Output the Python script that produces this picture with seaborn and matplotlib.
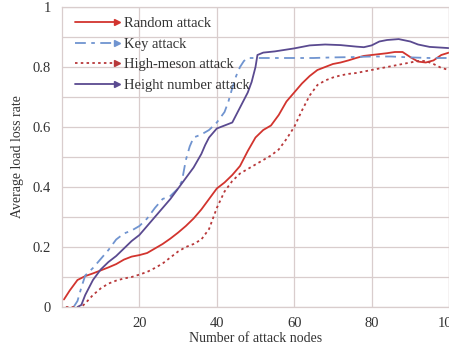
import matplotlib
matplotlib.use("Agg")
import matplotlib.pyplot as plt
from matplotlib.lines import Line2D
from matplotlib.legend_handler import HandlerLine2D
from matplotlib.ticker import MultipleLocator
import numpy as np
import pandas as pd
import seaborn as sns

# ---- data -----------------------------------------------------------------
x_random = [0.5, 2, 4, 6, 8, 10, 12, 14, 16, 18, 20, 22, 24, 26, 28, 30, 32, 34,
            36, 38, 40, 42, 44, 46, 48, 50, 52, 54, 56, 58, 60, 62, 64, 66, 68,
            70, 72, 74, 76, 78, 80, 82, 84, 86, 88, 90, 92, 94, 96, 98, 100]
y_random = [0.025, 0.055, 0.09, 0.103, 0.112, 0.122, 0.132, 0.143, 0.158, 0.168,
            0.173, 0.18, 0.195, 0.21, 0.228, 0.248, 0.27, 0.295, 0.325, 0.36,
            0.395, 0.415, 0.44, 0.47, 0.52, 0.565, 0.59, 0.605, 0.64, 0.685,
            0.715, 0.745, 0.77, 0.79, 0.80, 0.81, 0.815, 0.822, 0.83, 0.837,
            0.84, 0.843, 0.846, 0.85, 0.85, 0.833, 0.818, 0.815, 0.822, 0.84, 0.848]

x_key = [3, 4, 5, 6, 8, 10, 12, 14, 16, 18, 20, 22, 24, 26, 28, 30, 31, 32, 33,
         34, 36, 38, 40, 42, 43, 44, 45, 46, 47, 48, 50, 55, 60, 65, 70, 75, 80,
         85, 90, 95, 100]
y_key = [0.0, 0.02, 0.065, 0.105, 0.13, 0.16, 0.19, 0.225, 0.245, 0.255, 0.27,
         0.295, 0.33, 0.36, 0.37, 0.395, 0.42, 0.49, 0.535, 0.565, 0.575, 0.59,
         0.615, 0.65, 0.685, 0.73, 0.77, 0.80, 0.82, 0.83, 0.83, 0.83, 0.83,
         0.83, 0.832, 0.833, 0.835, 0.835, 0.832, 0.83, 0.83]

x_meson = [1, 3, 5, 6, 8, 10, 12, 14, 16, 18, 20, 22, 24, 26, 28, 30, 32, 34, 36,
           38, 40, 42, 44, 46, 48, 50, 52, 54, 56, 58, 60, 62, 64, 66, 68, 70, 72,
           74, 76, 78, 80, 82, 84, 86, 88, 90, 92, 94, 96, 98, 100]
y_meson = [0.0, 0.0, 0.0, 0.012, 0.04, 0.062, 0.078, 0.088, 0.095, 0.10, 0.108,
           0.117, 0.13, 0.145, 0.165, 0.185, 0.2, 0.21, 0.225, 0.26, 0.33, 0.385,
           0.42, 0.445, 0.46, 0.475, 0.49, 0.505, 0.525, 0.56, 0.6, 0.655, 0.705,
           0.74, 0.755, 0.765, 0.772, 0.777, 0.78, 0.785, 0.79, 0.795, 0.80,
           0.805, 0.81, 0.815, 0.82, 0.82, 0.81, 0.797, 0.79]

x_height = [4, 5, 6, 8, 10, 12, 14, 16, 18, 20, 22, 24, 26, 28, 30, 32, 34, 36,
            37, 38, 40, 42, 44, 45, 46, 48, 49, 50, 50.5, 52, 55, 58, 60, 64, 68,
            72, 76, 78, 80, 82, 84, 87, 90, 92, 95, 100]
y_height = [0.0, 0.007, 0.04, 0.09, 0.125, 0.15, 0.17, 0.195, 0.22, 0.24, 0.27,
            0.30, 0.33, 0.36, 0.395, 0.43, 0.465, 0.51, 0.54, 0.565, 0.595, 0.605,
            0.615, 0.64, 0.665, 0.715, 0.75, 0.80, 0.84, 0.848, 0.852, 0.858,
            0.862, 0.872, 0.875, 0.873, 0.868, 0.866, 0.872, 0.885, 0.89, 0.893,
            0.885, 0.875, 0.867, 0.863]

series_names = ["Random attack", "Key attack", "High-meson attack", "Height number attack"]
x_ticks = [20, 40, 60, 80, 100]
y_ticks = [0, 0.2, 0.4, 0.6, 0.8, 1]
y_tick_labels = ["0", "0.2", "0.4", "0.6", "0.8", "1"]

# ---- style ----------------------------------------------------------------
sns.set_theme(style="whitegrid")
plt.rcParams["font.family"] = ["Liberation Serif", "DejaVu Serif"]
text_color = "#333333"
grid_color = "#d9cdcd"

colors = {
    "Random attack": "#d2342e",
    "Key attack": "#7094d0",
    "High-meson attack": "#b8383a",
    "Height number attack": "#5a4a90",
}
styles = {
    "Random attack": dict(linestyle="-"),
    "Key attack": dict(dashes=(6, 3, 2, 3)),
    "High-meson attack": dict(dashes=(1.4, 1.8)),
    "Height number attack": dict(linestyle="-"),
}

fig = plt.figure(figsize=(4.49, 3.47), dpi=100)
ax = fig.add_axes([62 / 449, 40 / 347, 387 / 449, 300 / 347])

xs = [x_random, x_key, x_meson, x_height]
ys = [y_random, y_key, y_meson, y_height]
for name, xv, yv in zip(series_names, xs, ys):
    df = pd.DataFrame({"x": xv, "y": yv})
    sns.lineplot(data=df, x="x", y="y", ax=ax, color=colors[name], lw=1.3,
                 label=name, **styles[name])

ax.set_xlim(0, 100)
ax.set_ylim(0, 1)
ax.set_xticks(x_ticks)
ax.set_yticks(y_ticks)
ax.set_yticklabels(y_tick_labels)
ax.yaxis.set_minor_locator(MultipleLocator(0.1))
ax.grid(True, which="both", color=grid_color, lw=0.9)
ax.set_axisbelow(True)
ax.tick_params(axis="both", which="both", length=0, labelsize=10.5,
               colors=text_color)
ax.tick_params(axis="y", pad=8)
ax.tick_params(axis="x", pad=7)
for sp in ax.spines.values():
    sp.set_color(grid_color)
    sp.set_linewidth(0.9)

ax.set_xlabel("Number of attack nodes", fontsize=10, color=text_color, labelpad=2)
ax.set_ylabel("Average load loss rate", fontsize=10, color=text_color, labelpad=6)


class ArrowLineHandler(HandlerLine2D):
    """Legend key: a line segment finished with a small arrow head."""

    def create_artists(self, legend, orig_handle, xdescent, ydescent, width,
                       height, fontsize, trans):
        y = height / 2 - ydescent
        line = Line2D([-xdescent, width - xdescent - 2], [y, y])
        self.update_prop(line, orig_handle, legend)
        line.set_marker("None")
        line.set_transform(trans)
        head = Line2D([width - xdescent], [y], marker=">", markersize=5,
                      color=orig_handle.get_color(), linestyle="None")
        head.set_transform(trans)
        return [line, head]


handles, labels = ax.get_legend_handles_labels()
leg = ax.legend(handles, labels, handler_map={Line2D: ArrowLineHandler()},
                loc="upper left", bbox_to_anchor=(75 / 449, 1 - 17 / 347),
                bbox_transform=fig.transFigure, frameon=False, fontsize=10.5,
                borderpad=0, borderaxespad=0, handlelength=2.9,
                handletextpad=0.45, labelspacing=0.5)
for t in leg.get_texts():
    t.set_color(text_color)

fig.savefig("out.png", dpi=100)
